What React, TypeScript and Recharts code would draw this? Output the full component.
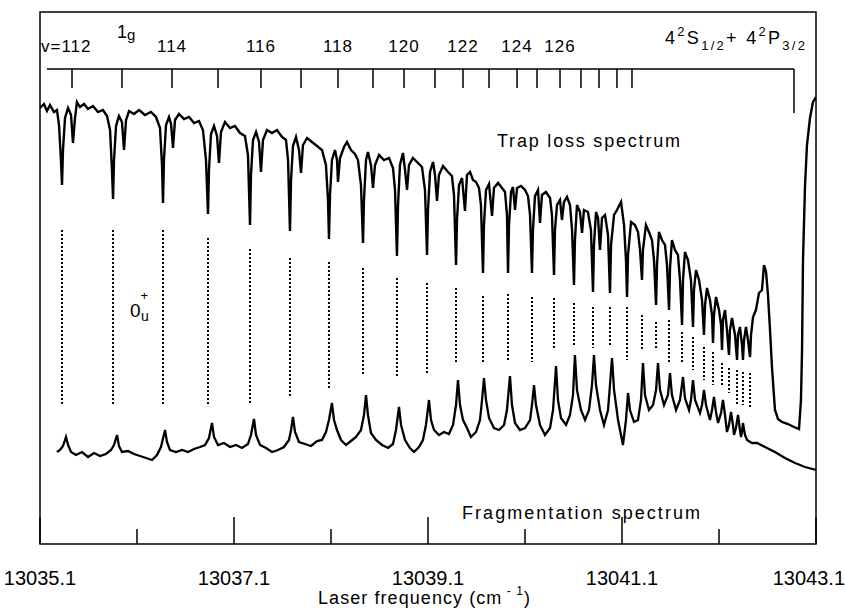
import { LineChart, Line, XAxis, YAxis, ReferenceLine, ReferenceArea } from 'recharts'

const FONT = '"Liberation Sans", Arial, Helvetica, sans-serif'

// laser frequency axis (cm-1)
const freqTicks = [13035.1, 13036.1, 13037.1, 13038.1, 13039.1, 13040.1, 13041.1, 13042.1, 13043.1]
const majorTicks = [13035.1, 13037.1, 13039.1, 13041.1, 13043.1]

// trap loss spectrum, [frequency, signal a.u.]
const trapLoss: [number, number][] = [
  [13035.1, 436], [13035.141, 440], [13035.172, 433], [13035.203, 439], [13035.244, 432], [13035.275, 434],
  [13035.296, 419], [13035.316, 384], [13035.327, 359], [13035.337, 394], [13035.358, 426], [13035.389, 436],
  [13035.42, 429], [13035.44, 401], [13035.461, 426], [13035.481, 442], [13035.512, 437], [13035.554, 440],
  [13035.595, 435], [13035.646, 438], [13035.698, 432], [13035.749, 434], [13035.791, 428], [13035.822, 414],
  [13035.842, 374], [13035.853, 345], [13035.863, 384], [13035.884, 418], [13035.914, 428], [13035.945, 422],
  [13035.966, 394], [13035.987, 424], [13036.018, 433], [13036.069, 430], [13036.121, 434], [13036.182, 429],
  [13036.244, 432], [13036.296, 427], [13036.337, 416], [13036.358, 379], [13036.368, 341], [13036.378, 384],
  [13036.399, 419], [13036.43, 427], [13036.451, 420], [13036.471, 396], [13036.492, 424], [13036.533, 430],
  [13036.585, 425], [13036.636, 427], [13036.688, 421], [13036.739, 423], [13036.78, 414], [13036.811, 384],
  [13036.832, 330], [13036.842, 374], [13036.863, 410], [13036.894, 418], [13036.925, 408], [13036.945, 381],
  [13036.966, 412], [13037.007, 422], [13037.059, 416], [13037.11, 418], [13037.162, 411], [13037.213, 408],
  [13037.244, 389], [13037.265, 319], [13037.275, 369], [13037.296, 404], [13037.327, 412], [13037.358, 402],
  [13037.378, 372], [13037.399, 404], [13037.44, 414], [13037.492, 411], [13037.543, 414], [13037.595, 407],
  [13037.636, 404], [13037.657, 384], [13037.677, 313], [13037.688, 364], [13037.708, 398], [13037.739, 407],
  [13037.77, 394], [13037.791, 371], [13037.811, 399], [13037.853, 406], [13037.904, 402], [13037.956, 398],
  [13038.007, 394], [13038.048, 379], [13038.069, 344], [13038.079, 305], [13038.09, 349], [13038.11, 384],
  [13038.141, 394], [13038.162, 384], [13038.172, 362], [13038.193, 386], [13038.234, 397], [13038.265, 402],
  [13038.306, 394], [13038.347, 390], [13038.378, 384], [13038.409, 359], [13038.43, 301], [13038.44, 344],
  [13038.461, 384], [13038.481, 392], [13038.512, 379], [13038.533, 356], [13038.554, 379], [13038.595, 389],
  [13038.646, 384], [13038.698, 386], [13038.739, 376], [13038.76, 354], [13038.78, 288], [13038.791, 339],
  [13038.811, 379], [13038.842, 391], [13038.863, 374], [13038.884, 354], [13038.904, 379], [13038.945, 386],
  [13038.997, 381], [13039.038, 377], [13039.069, 354], [13039.09, 289], [13039.1, 334], [13039.121, 372],
  [13039.152, 382], [13039.172, 369], [13039.193, 343], [13039.213, 369], [13039.255, 378], [13039.306, 372],
  [13039.347, 368], [13039.368, 349], [13039.389, 279], [13039.399, 324], [13039.42, 359], [13039.451, 366],
  [13039.481, 333], [13039.502, 369], [13039.533, 372], [13039.564, 364], [13039.595, 362], [13039.626, 356],
  [13039.646, 339], [13039.667, 271], [13039.677, 319], [13039.698, 354], [13039.729, 360], [13039.76, 328],
  [13039.78, 356], [13039.822, 361], [13039.863, 356], [13039.894, 352], [13039.914, 329], [13039.925, 271],
  [13039.935, 319], [13039.956, 352], [13039.976, 357], [13039.997, 334], [13040.018, 356], [13040.059, 358],
  [13040.1, 354], [13040.131, 348], [13040.152, 329], [13040.172, 271], [13040.182, 314], [13040.203, 348],
  [13040.234, 354], [13040.255, 321], [13040.275, 349], [13040.316, 352], [13040.358, 346], [13040.378, 329],
  [13040.399, 269], [13040.409, 314], [13040.43, 339], [13040.461, 344], [13040.481, 324], [13040.502, 342],
  [13040.533, 347], [13040.564, 339], [13040.585, 314], [13040.605, 259], [13040.615, 304], [13040.636, 339],
  [13040.667, 332], [13040.688, 311], [13040.708, 334], [13040.749, 332], [13040.78, 314], [13040.801, 252],
  [13040.811, 299], [13040.832, 332], [13040.853, 326], [13040.873, 294], [13040.894, 326], [13040.925, 329],
  [13040.956, 309], [13040.976, 251], [13040.987, 299], [13041.018, 329], [13041.048, 334], [13041.09, 342],
  [13041.121, 319], [13041.141, 284], [13041.152, 247], [13041.162, 289], [13041.193, 322], [13041.234, 319],
  [13041.265, 312], [13041.286, 294], [13041.306, 264], [13041.316, 294], [13041.347, 319], [13041.378, 312],
  [13041.409, 304], [13041.43, 284], [13041.451, 239], [13041.461, 279], [13041.481, 312], [13041.512, 304],
  [13041.543, 299], [13041.564, 279], [13041.585, 234], [13041.595, 276], [13041.615, 304], [13041.646, 294],
  [13041.677, 289], [13041.698, 264], [13041.719, 219], [13041.729, 264], [13041.749, 292], [13041.78, 284],
  [13041.811, 264], [13041.832, 217], [13041.842, 254], [13041.863, 274], [13041.894, 264], [13041.925, 244],
  [13041.945, 209], [13041.956, 239], [13041.976, 256], [13042.007, 244], [13042.028, 229], [13042.038, 201],
  [13042.048, 229], [13042.069, 247], [13042.1, 234], [13042.121, 219], [13042.131, 194], [13042.141, 224],
  [13042.162, 234], [13042.182, 214], [13042.203, 189], [13042.213, 214], [13042.234, 226], [13042.265, 209],
  [13042.286, 184], [13042.296, 209], [13042.316, 217], [13042.337, 199], [13042.347, 184], [13042.358, 204],
  [13042.378, 217], [13042.399, 204], [13042.42, 187], [13042.43, 209], [13042.451, 227], [13042.481, 234],
  [13042.512, 251], [13042.543, 254], [13042.564, 279], [13042.585, 272], [13042.605, 249], [13042.626, 214],
  [13042.646, 177], [13042.677, 134], [13042.708, 125], [13042.749, 122], [13042.811, 120], [13042.873, 117],
  [13042.925, 115], [13042.945, 144], [13042.956, 194], [13042.966, 284], [13042.987, 359], [13043.007, 399],
  [13043.038, 426], [13043.069, 442], [13043.1, 447],
]

// fragmentation spectrum, [frequency, signal a.u.]
const fragmentation: [number, number][] = [
  [13035.275, 92], [13035.306, 94], [13035.337, 98], [13035.368, 107], [13035.389, 99], [13035.42, 92],
  [13035.471, 89], [13035.533, 92], [13035.595, 87], [13035.657, 91], [13035.719, 88], [13035.78, 90],
  [13035.832, 94], [13035.863, 99], [13035.894, 109], [13035.914, 98], [13035.945, 92], [13036.007, 93],
  [13036.069, 90], [13036.131, 88], [13036.193, 86], [13036.255, 84], [13036.306, 89], [13036.347, 97],
  [13036.389, 114], [13036.409, 102], [13036.44, 94], [13036.502, 92], [13036.564, 94], [13036.626, 92],
  [13036.688, 95], [13036.749, 97], [13036.801, 99], [13036.842, 106], [13036.873, 121], [13036.894, 107],
  [13036.935, 99], [13036.997, 101], [13037.059, 97], [13037.121, 99], [13037.182, 96], [13037.244, 100],
  [13037.275, 109], [13037.306, 125], [13037.327, 109], [13037.368, 99], [13037.43, 96], [13037.492, 92],
  [13037.554, 94], [13037.615, 97], [13037.667, 104], [13037.688, 114], [13037.708, 127], [13037.729, 112],
  [13037.77, 102], [13037.832, 100], [13037.894, 98], [13037.956, 103], [13038.007, 104], [13038.048, 112],
  [13038.079, 124], [13038.11, 141], [13038.131, 124], [13038.162, 114], [13038.203, 104], [13038.255, 99],
  [13038.306, 103], [13038.358, 107], [13038.409, 114], [13038.44, 129], [13038.461, 149], [13038.481, 129],
  [13038.512, 111], [13038.564, 104], [13038.626, 99], [13038.688, 96], [13038.739, 100], [13038.77, 114],
  [13038.801, 137], [13038.822, 119], [13038.863, 104], [13038.914, 96], [13038.956, 92], [13039.007, 97],
  [13039.048, 104], [13039.079, 119], [13039.11, 144], [13039.131, 124], [13039.162, 114], [13039.213, 109],
  [13039.265, 112], [13039.316, 110], [13039.358, 119], [13039.389, 139], [13039.409, 164], [13039.43, 139],
  [13039.461, 124], [13039.502, 116], [13039.543, 107], [13039.595, 112], [13039.636, 124], [13039.657, 144],
  [13039.677, 166], [13039.698, 144], [13039.729, 126], [13039.78, 116], [13039.832, 114], [13039.884, 119],
  [13039.914, 134], [13039.945, 168], [13039.966, 139], [13039.997, 121], [13040.048, 114], [13040.1, 116],
  [13040.152, 124], [13040.172, 139], [13040.193, 159], [13040.213, 139], [13040.255, 119], [13040.306, 109],
  [13040.358, 116], [13040.389, 134], [13040.42, 178], [13040.44, 144], [13040.471, 126], [13040.523, 119],
  [13040.564, 129], [13040.595, 149], [13040.615, 189], [13040.636, 154], [13040.677, 134], [13040.719, 124],
  [13040.76, 134], [13040.791, 159], [13040.811, 189], [13040.832, 159], [13040.873, 134], [13040.914, 119],
  [13040.956, 134], [13040.976, 159], [13040.997, 186], [13041.018, 154], [13041.059, 124], [13041.11, 99],
  [13041.141, 124], [13041.162, 151], [13041.182, 134], [13041.224, 122], [13041.265, 124], [13041.296, 144],
  [13041.316, 181], [13041.337, 149], [13041.378, 134], [13041.42, 139], [13041.451, 154], [13041.471, 181],
  [13041.492, 154], [13041.533, 139], [13041.574, 149], [13041.595, 171], [13041.615, 149], [13041.657, 134],
  [13041.698, 144], [13041.729, 167], [13041.749, 146], [13041.791, 134], [13041.811, 144], [13041.832, 164],
  [13041.853, 144], [13041.904, 131], [13041.925, 139], [13041.945, 154], [13041.966, 139], [13042.007, 124],
  [13042.028, 134], [13042.048, 147], [13042.069, 132], [13042.09, 121], [13042.121, 131], [13042.141, 144],
  [13042.162, 129], [13042.182, 112], [13042.203, 119], [13042.224, 132], [13042.244, 119], [13042.255, 109],
  [13042.275, 116], [13042.296, 129], [13042.316, 114], [13042.327, 107], [13042.337, 112], [13042.347, 121],
  [13042.368, 109], [13042.389, 104], [13042.44, 101], [13042.492, 101], [13042.574, 97], [13042.677, 92],
  [13042.78, 86], [13042.884, 81], [13042.987, 77], [13043.1, 74],
]

// 0u+ levels: dotted connectors between the two spectra (top / bottom in a.u.)
const levelFreq = [
  13035.327, 13035.853, 13036.368, 13036.832, 13037.265, 13037.677, 13038.079, 13038.43, 13038.78, 13039.09,
  13039.389, 13039.667, 13039.925, 13040.172, 13040.399, 13040.605, 13040.801, 13040.976, 13041.152, 13041.306,
  13041.451, 13041.585, 13041.719, 13041.832, 13041.945, 13042.038, 13042.131, 13042.203, 13042.286, 13042.347,
  13042.42,
]
const levelTop = [
  314, 314, 314, 306, 295, 286, 282, 276, 266, 261, 256, 248, 250, 247, 246, 241, 237, 237, 237, 229,
  222, 224, 212, 207, 197, 192, 181, 176, 174, 172, 171,
]
const levelBottom = [
  139, 139, 139, 139, 141, 147, 156, 169, 167, 171, 181, 182, 183, 182, 194, 199, 196, 197, 184, 194,
  194, 182, 181, 174, 164, 159, 159, 151, 139, 139, 137,
]

// 1g progression, v = 112 ... 130
const gFreq = [
  13035.43, 13035.945, 13036.461, 13036.935, 13037.378, 13037.791, 13038.172, 13038.533, 13038.853, 13039.172,
  13039.461, 13039.729, 13040.018, 13040.224, 13040.461, 13040.677, 13040.863, 13041.048, 13041.203,
]
const gV = [112, 113, 114, 115, 116, 117, 118, 119, 120, 121, 122, 123, 124, 125, 126, 127, 128, 129, 130]
const gLabelled = [114, 116, 118, 120, 122, 124, 126]
const rulerStart = 13035.172
const asymptote = 13042.873

const RULER_Y = 475
const RULER_TICK = 456
const RULER_DROP = 431

const trapData = trapLoss.map(([f, s]) => ({ f, s }))
const fragData = fragmentation.map(([f, s]) => ({ f, s }))

function FreqTick(props: any) {
  const { x, y, payload, index } = props
  const major = majorTicks.some((t) => Math.abs(t - payload.value) < 1e-6)
  const last = index === freqTicks.length - 1
  return (
    <g>
      <line x1={x} x2={x} y1={y} y2={y - (major ? 27 : 15)} stroke="#000" strokeWidth={1.5} />
      {major && (
        <text
          x={last ? x + 29 : x}
          y={y + 41}
          textAnchor={last ? 'end' : 'middle'}
          fontSize={20}
          fontFamily={FONT}
          fill="#000"
        >
          {payload.value.toFixed(1)}
        </text>
      )}
    </g>
  )
}

export default function App() {
  return (
    <div style={{ position: 'absolute', left: 0, top: 0, width: 845, height: 608, background: '#fff' }}>
      <LineChart
        width={845}
        height={608}
        margin={{ top: 12, right: 29, bottom: 34, left: 40 }}
      >
        <XAxis
          dataKey="f"
          type="number"
          domain={[13035.1, 13043.1]}
          ticks={freqTicks}
          allowDataOverflow
          height={30}
          tickSize={0}
          tickMargin={0}
          tickLine={false}
          axisLine={false}
          tick={FreqTick}
          interval={0}
        />
        <YAxis type="number" domain={[0, 532]} hide allowDataOverflow />
        <ReferenceArea
          x1={13035.1}
          x2={13043.1}
          y1={0}
          y2={532}
          fill="none"
          fillOpacity={0}
          stroke="#000"
          strokeWidth={1.5}
        />
        {levelFreq.map((f, i) => (
          <ReferenceLine
            key={'lv' + i}
            segment={[{ x: f, y: levelTop[i] }, { x: f, y: levelBottom[i] }]}
            stroke="#000"
            strokeWidth={2}
            strokeDasharray="2 2"
          />
        ))}
        <ReferenceLine
          segment={[{ x: rulerStart, y: RULER_Y }, { x: asymptote, y: RULER_Y }]}
          stroke="#000"
          strokeWidth={1.5}
        />
        <ReferenceLine
          segment={[{ x: asymptote, y: RULER_Y }, { x: asymptote, y: RULER_DROP }]}
          stroke="#000"
          strokeWidth={1.5}
        />
        {gFreq.map((f, i) => (
          <ReferenceLine
            key={'g' + i}
            segment={[{ x: f, y: RULER_Y }, { x: f, y: RULER_TICK }]}
            stroke="#000"
            strokeWidth={1.5}
            label={
              gLabelled.includes(gV[i])
                ? { value: String(gV[i]), position: 'top', offset: 17, fontSize: 17, fontFamily: FONT, fill: '#000', letterSpacing: 1 }
                : undefined
            }
          />
        ))}
        <Line
          data={trapData}
          dataKey="s"
          type="linear"
          stroke="#000"
          strokeWidth={2.4}
          dot={false}
          isAnimationActive={false}
        />
        <Line
          data={fragData}
          dataKey="s"
          type="linear"
          stroke="#000"
          strokeWidth={2.3}
          dot={false}
          isAnimationActive={false}
        />
      </LineChart>
      <svg
        width={845}
        height={608}
        style={{ position: 'absolute', left: 0, top: 0, pointerEvents: 'none' }}
        fontFamily={FONT}
        fill="#000"
      >
        <text x={41} y={52} fontSize={17} letterSpacing={1}>v=112</text>
        <text x={117} y={38} fontSize={18}>
          1<tspan fontSize={15} y={40}>g</tspan>
        </text>
        <text x={665} y={44} fontSize={18} textLength={140} lengthAdjust="spacing">
          4<tspan fontSize={13} y={36}>2</tspan>
          <tspan y={44}>S</tspan>
          <tspan fontSize={13} y={50}>1/2</tspan>
          <tspan y={44}>+ 4</tspan>
          <tspan fontSize={13} y={36}>2</tspan>
          <tspan y={44}>P</tspan>
          <tspan fontSize={13} y={50}>3/2</tspan>
        </text>
        <text x={497} y={147} fontSize={18} textLength={183} lengthAdjust="spacing">Trap loss spectrum</text>
        <text x={462} y={519} fontSize={18} textLength={238} lengthAdjust="spacing">
          Fragmentation spectrum
        </text>
        <text x={130} y={317} fontSize={19}>
          0<tspan fontSize={13} y={300}>+</tspan>
        </text>
        <text x={141} y={321} fontSize={14}>u</text>
        <text x={318} y={604} fontSize={18} textLength={212} lengthAdjust="spacing">
          Laser frequency (cm<tspan fontSize={12} y={595}> - 1</tspan>
          <tspan y={604}>)</tspan>
        </text>
      </svg>
    </div>
  )
}
